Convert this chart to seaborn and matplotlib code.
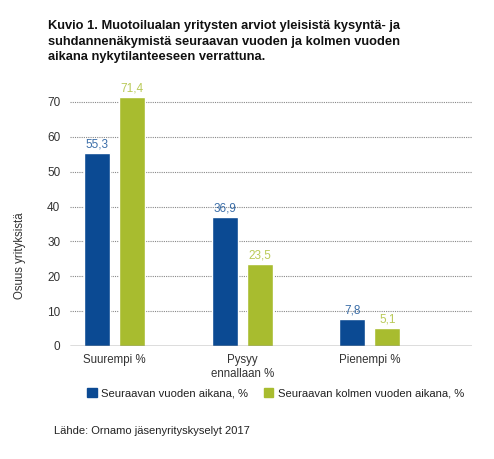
import numpy as np
import pandas as pd
import matplotlib
matplotlib.use("Agg")
import matplotlib.pyplot as plt
from matplotlib.patches import Rectangle
import seaborn as sns

# Data.
categories = ["Suurempi %", "Pysyy\nennallaan %", "Pienempi %"]
series = ["Seuraavan vuoden aikana, %", "Seuraavan kolmen vuoden aikana, %"]
next_year = [55.3, 36.9, 7.8]
next_three_years = [71.4, 23.5, 5.1]
yticks = [0, 10, 20, 30, 40, 50, 60, 70]

df = pd.DataFrame({
    "Kategoria": categories * 2,
    "Sarja": [series[0]] * 3 + [series[1]] * 3,
    "Arvo": next_year + next_three_years,
})

blue = "#0b4a93"
green = "#a8bc2f"
text_col = "#333333"

sns.set_style("white")
plt.rcParams["font.family"] = ["Liberation Sans", "DejaVu Sans"]

fig = plt.figure(figsize=(4.94, 4.59), dpi=100)
ax = fig.add_axes([0.1417, 0.2462, 0.8138, 0.547])

sns.barplot(data=df, x="Kategoria", y="Arvo", hue="Sarja",
            palette=[blue, green], saturation=1, width=0.55, gap=0.26,
            legend=False, ax=ax, zorder=3)

ax.set_ylim(0, 72)
ax.set_xlim(-0.35, 2.8)
ax.set_yticks(yticks)
ax.set_yticklabels([str(t) for t in yticks], fontsize=8.5, color=text_col)
ax.tick_params(axis="y", length=0, pad=7)
ax.tick_params(axis="x", length=0, pad=6, labelsize=8.3, labelcolor=text_col)
for lab in ax.get_xticklabels():
    lab.set_linespacing(1.2)
    lab.set_verticalalignment("top")

# Dotted grid lines.
for t in yticks[1:]:
    ax.axhline(t, color="#888888", lw=0.8, ls=(0, (1, 1)), zorder=1)
ax.axhline(0, color="#555555", lw=1.0, zorder=4)

for s in ["top", "right", "left", "bottom"]:
    ax.spines[s].set_visible(False)

ax.set_xlabel("")
ax.set_ylabel("Osuus yrityksistä", fontsize=8.3, color=text_col)
ax.yaxis.set_label_coords(-0.109, 0.36)

# Value labels.
for cont, col in zip(ax.containers, [blue, green]):
    ax.bar_label(cont, labels=[f"{v:.1f}".replace(".", ",") for v in cont.datavalues],
                 color=col, fontsize=8.5, padding=2, alpha=0.8)

# Title.
fig.text(0.097, 0.956,
         "Kuvio 1. Muotoilualan yritysten arviot yleisistä kysyntä- ja\n"
         "suhdannenäkymistä seuraavan vuoden ja kolmen vuoden\n"
         "aikana nykytilanteeseen verrattuna.",
         fontsize=9.3, fontweight="bold", va="top", ha="left",
         linespacing=1.38, color="#111111")

# Legend.
handles = [Rectangle((0, 0), 1, 1, color=blue), Rectangle((0, 0), 1, 1, color=green)]
fig.legend(handles, series, loc="center", bbox_to_anchor=(0.558, 0.143),
           ncol=2, frameon=False, fontsize=8.1, handlelength=0.85, handleheight=0.85,
           handletextpad=0.4, columnspacing=1.4, labelcolor="#222222")

# Source.
fig.text(0.109, 0.061, "Lähde: Ornamo jäsenyrityskyselyt 2017",
         fontsize=8, color="#222222", va="center", ha="left")

fig.savefig("out.png", dpi=100)
